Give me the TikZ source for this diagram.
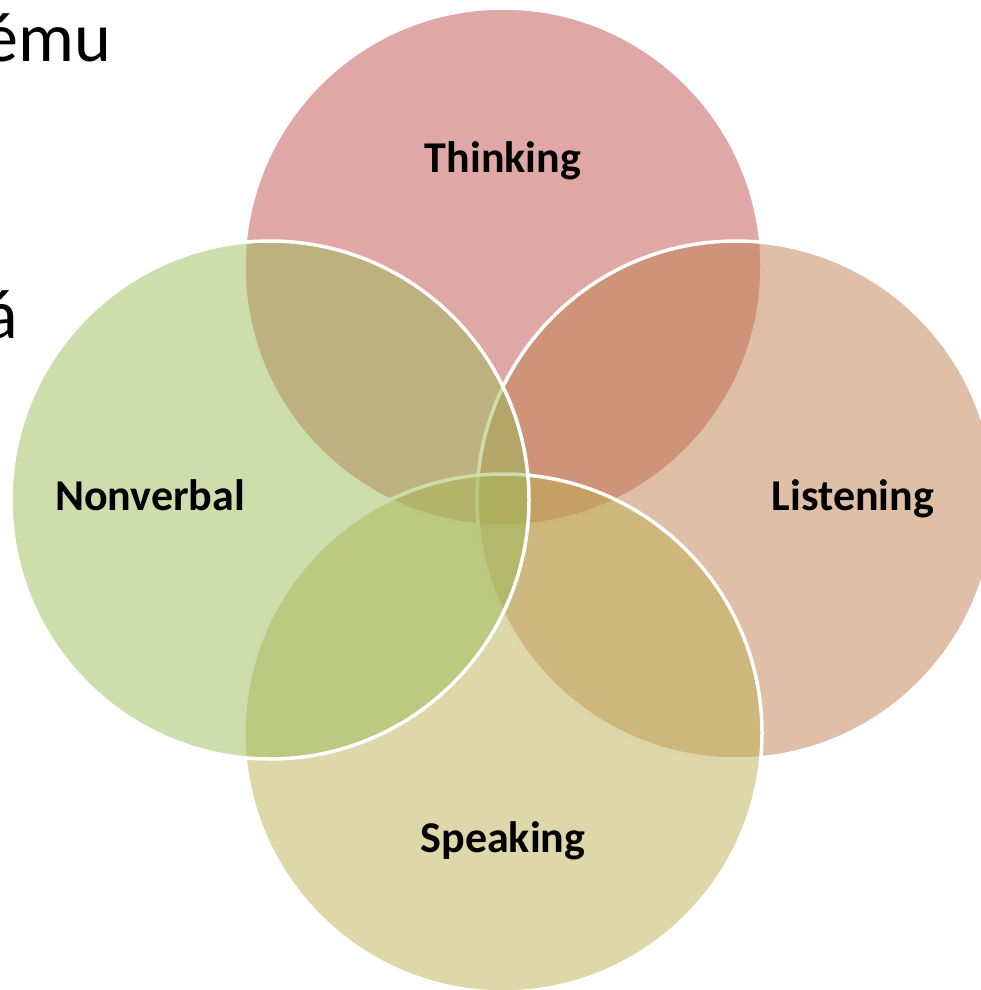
\documentclass[tikz,border=0pt]{standalone}
\usepackage{fontspec}
\setmainfont{Carlito}
\definecolor{thinkc}{RGB}{192,80,77}
\definecolor{listenc}{RGB}{191,127,79}
\definecolor{speakc}{RGB}{187,175,83}
\definecolor{nonverbc}{RGB}{155,187,89}
\tikzset{
  venn/.style={circle, inner sep=0pt, minimum size=259pt, draw=white, line width=1.75pt, fill opacity=0.5, draw opacity=1},
  lbl/.style={anchor=base, inner sep=0pt, font=\fontsize{22}{26}\selectfont\bfseries, text=black},
  slide/.style={anchor=base west, inner sep=0pt, font=\fontsize{35}{42}\selectfont, text=black}
}
\begin{document}
\begin{tikzpicture}[x=0.5pt, y=-0.5pt]
\useasboundingbox (0,0) rectangle (980,990);
\node[venn, fill=thinkc] (thinking) at (503,267) {};
\node[venn, fill=listenc] (listening) at (736,500) {};
\node[venn, fill=speakc] (speaking) at (503,733) {};
\node[venn, fill=nonverbc] (nonverbal) at (270,500) {};
\node[lbl] (tthinking) at (503,172) {Thinking};
\node[lbl] (tlistening) at (853,510) {Listening};
\node[lbl] (tspeaking) at (503,852) {Speaking};
\node[lbl] (tnonverbal) at (150,510) {Nonverbal};
\node[slide] (line1) at (-17,62) {ému};
\node[slide] (line2) at (-16,338) {á};
\end{tikzpicture}
\end{document}
